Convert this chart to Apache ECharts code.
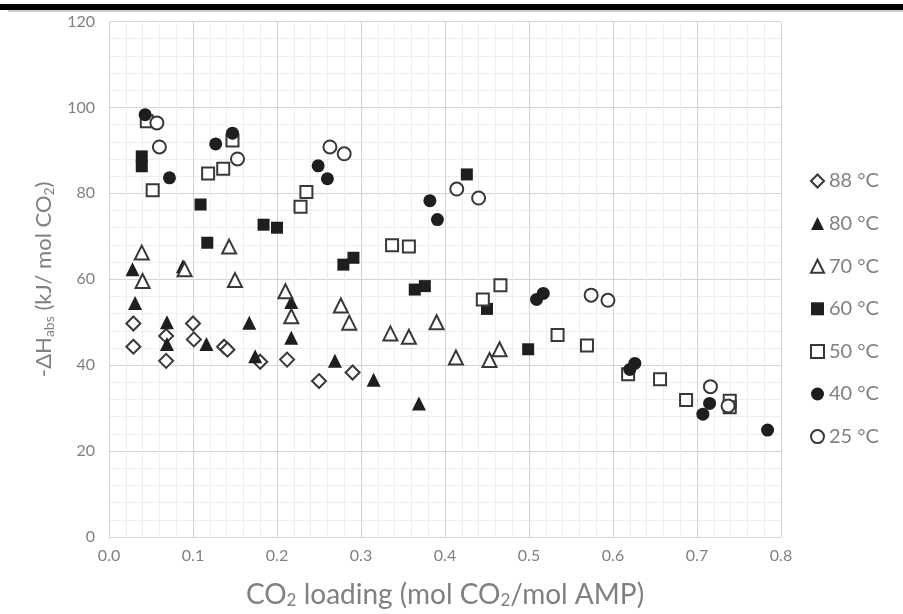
<!DOCTYPE html>
<html>
<head>
<meta charset="utf-8">
<script src="https://cdn.jsdelivr.net/npm/echarts@6/dist/echarts.min.js"></script>
<style>html,body{margin:0;padding:0;background:#fff}#c{width:903px;height:614px}</style>
</head>
<body>
<div id="c"></div>
<script>
const xTicks = ['0.0','0.1','0.2','0.3','0.4','0.5','0.6','0.7','0.8'];
const yTicks = [0,20,40,60,80,100,120];
const seriesNames = ['88 °C','80 °C','70 °C','60 °C','50 °C','40 °C','25 °C'];

const s88 = [[0.029,49.7],[0.029,44.3],[0.068,46.8],[0.068,41.0],[0.100,49.7],[0.101,46.0],[0.137,44.3],[0.141,43.6],[0.180,40.8],[0.212,41.3],[0.250,36.3],[0.290,38.3]];
const s80 = [[0.028,62.3],[0.031,54.5],[0.069,50.0],[0.069,44.9],[0.088,63.0],[0.116,44.9],[0.167,49.9],[0.174,42.1],[0.217,54.7],[0.217,46.4],[0.269,41.0],[0.315,36.6],[0.369,31.1]];
const s70 = [[0.039,66.2],[0.040,59.6],[0.090,62.3],[0.143,67.6],[0.150,59.8],[0.210,57.2],[0.217,51.4],[0.276,53.9],[0.286,49.9],[0.335,47.4],[0.357,46.6],[0.390,50.0],[0.413,41.8],[0.453,41.2],[0.465,43.7]];
const s60 = [[0.039,88.6],[0.039,86.3],[0.109,77.4],[0.117,68.5],[0.184,72.7],[0.200,72.0],[0.279,63.4],[0.291,65.0],[0.364,57.6],[0.376,58.4],[0.426,84.4],[0.450,53.1],[0.499,43.7]];
const s50 = [[0.045,96.8],[0.052,80.7],[0.118,84.6],[0.136,85.7],[0.147,92.3],[0.228,76.9],[0.235,80.3],[0.337,67.9],[0.357,67.6],[0.445,55.3],[0.466,58.6],[0.534,47.0],[0.569,44.6],[0.618,37.9],[0.656,36.7],[0.687,31.9],[0.739,31.7],[0.739,30.2]];
const s40 = [[0.043,98.3],[0.072,83.6],[0.127,91.5],[0.147,94.0],[0.249,86.4],[0.260,83.4],[0.382,78.3],[0.391,73.9],[0.509,55.3],[0.517,56.7],[0.620,39.0],[0.626,40.4],[0.707,28.6],[0.715,31.1],[0.784,24.9]];
const s25 = [[0.057,96.4],[0.060,90.8],[0.153,88.0],[0.263,90.8],[0.280,89.2],[0.414,81.0],[0.440,78.9],[0.574,56.3],[0.594,55.1],[0.716,35.0],[0.737,30.5]];

const FONT = 'Lato, "Open Sans", sans-serif';
const TXT = '#808080';
const DARK = '#1e1e1e';

function mk(name, data, symbol, filled, size) {
  return {
    name: name, type: 'scatter', data: data, symbol: symbol, symbolSize: size,
    itemStyle: filled ? {color: DARK, borderColor: DARK, borderWidth: 0, opacity: 1}
                      : {color: '#ffffff', borderColor: '#383838', borderWidth: 2, opacity: 1},
    emphasis: {disabled: true}
  };
}

const chart = echarts.init(document.getElementById('c'), null, {renderer: 'canvas'});
chart.setOption({
  animation: false,
  backgroundColor: '#ffffff',
  textStyle: {fontFamily: FONT},
  graphic: [
    {type: 'rect', shape: {x: 0, y: 4, width: 903, height: 6}, style: {fill: '#000'}},
    {type: 'line', shape: {x1: 8, y1: 11, x2: 903, y2: 11}, style: {stroke: '#9a9a9a', lineWidth: 1}}
  ],
  grid: {left: 109, right: 122, top: 21.5, bottom: 76},
  legend: {
    orient: 'vertical', left: 805, top: 166, itemGap: 22.6,
    itemWidth: 13, itemHeight: 13,
    textStyle: {color: TXT, fontSize: 20, lineHeight: 20, fontFamily: FONT},
    data: seriesNames
  },
  xAxis: {
    type: 'value', min: 0, max: 0.8, interval: 0.1,
    axisLine: {show: false}, axisTick: {show: false},
    axisLabel: {color: TXT, fontSize: 16, margin: 11, formatter: v => xTicks[Math.round(v * 10)]},
    splitLine: {show: true, lineStyle: {color: '#d4d4d4', width: 1}},
    minorTick: {show: false, splitNumber: 5},
    minorSplitLine: {show: true, lineStyle: {color: '#eeeeee', width: 1}},
    name: '{n|CO}{s|2}{n| loading (mol CO}{s|2}{n|/mol AMP)}',
    nameLocation: 'middle', nameGap: 43,
    nameTextStyle: {rich: {n: {fontSize: 28, color: TXT, fontFamily: FONT}, s: {fontSize: 17, color: TXT, fontFamily: FONT, verticalAlign: 'bottom', padding: [12, 0, 0, 0]}}}
  },
  yAxis: {
    type: 'value', min: 0, max: 120, interval: 20,
    axisLine: {show: false}, axisTick: {show: false},
    axisLabel: {color: TXT, fontSize: 16, margin: 14, formatter: v => String(yTicks[Math.round(v / 20)])},
    splitLine: {show: true, lineStyle: {color: '#d4d4d4', width: 1}},
    minorTick: {show: false, splitNumber: 5},
    minorSplitLine: {show: true, lineStyle: {color: '#eeeeee', width: 1}},
    name: '{n|-ΔH}{s|abs}{n| (kJ/ mol CO}{s|2}{n|)}',
    nameLocation: 'middle', nameRotate: 90, nameGap: 53,
    nameTextStyle: {rich: {n: {fontSize: 22, color: TXT, fontFamily: FONT}, s: {fontSize: 14, color: TXT, fontFamily: FONT, verticalAlign: 'bottom', padding: [10, 0, 0, 0]}}}
  },
  series: [
    mk(seriesNames[0], s88, 'diamond', false, 14),
    mk(seriesNames[1], s80, 'triangle', true, 14),
    mk(seriesNames[2], s70, 'triangle', false, 14),
    mk(seriesNames[3], s60, 'rect', true, 12),
    mk(seriesNames[4], s50, 'rect', false, 12),
    mk(seriesNames[5], s40, 'circle', true, 13),
    mk(seriesNames[6], s25, 'circle', false, 13)
  ]
});
</script>
</body>
</html>
